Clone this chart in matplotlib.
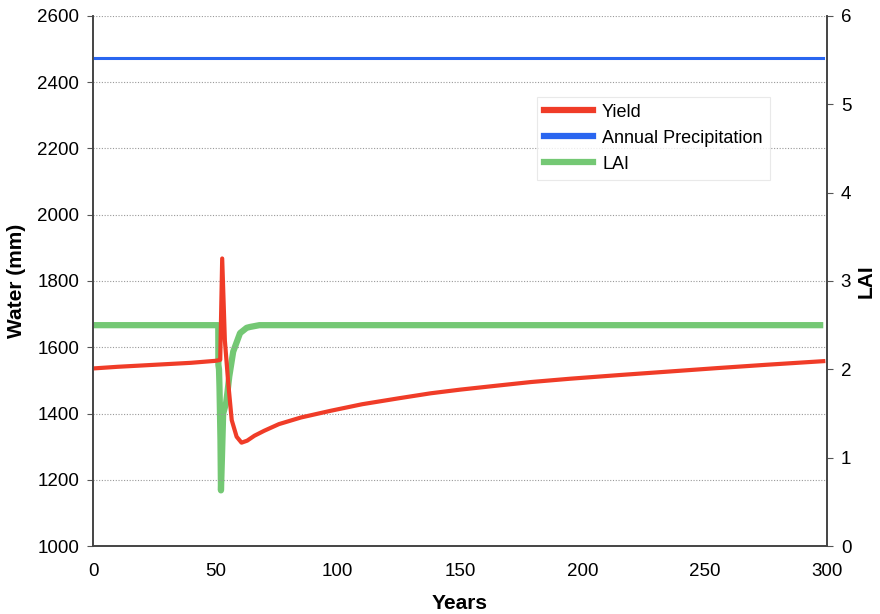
import matplotlib.pyplot as plt

plt.rcParams["font.family"] = ["Liberation Sans", "DejaVu Sans"]

# Yield (mm) against simulation year
yield_years = [0, 10, 20, 30, 40, 50, 51.5, 52.0, 52.8, 53.9, 55.3, 56.7, 58.7,
               60.7, 63, 66, 70, 76, 85, 97, 110, 125, 138, 150, 165, 179, 195,
               215, 236, 255, 275, 298.5]
yield_mm = [1536, 1541, 1545, 1549, 1553, 1559, 1561, 1562, 1868, 1620, 1490,
            1380, 1330, 1312, 1318, 1333, 1348, 1368, 1388, 1408, 1428, 1446,
            1461, 1472, 1484, 1495, 1505, 1516, 1527, 1537, 1547, 1558]

# Annual precipitation (mm), constant over the run
precip_years = [0, 298.5]
precip_mm = [2473, 2473]

# Leaf area index
lai_years = [0, 51.2, 51.25, 51.5, 51.7, 51.9, 52.1, 52.3, 52.7, 53.2, 54.4,
             55.0, 55.7, 57.3, 60.1, 62.8, 64.2, 68, 298.5]
lai = [2.5, 2.5, 2.05, 2.0, 1.8, 1.5, 1.2, 0.63, 1.0, 1.5, 1.62, 1.75, 1.92,
       2.2, 2.41, 2.47, 2.48, 2.5, 2.5]

red = "#f03c28"
blue = "#2a66f0"
green = "#74c874"

fig = plt.figure(figsize=(8.8, 6.14), dpi=100)
ax = fig.add_axes([0.1057, 0.1107, 0.834, 0.8633])
ax2 = ax.twinx()

# water axis on top so the yield line sits over LAI
ax.set_zorder(ax2.get_zorder() + 1)
ax.patch.set_visible(False)

ax2.plot(lai_years, lai, color=green, lw=4.5, solid_capstyle="butt")
ln_yield, = ax.plot(yield_years, yield_mm, color=red, lw=3.0)
ln_precip, = ax.plot(precip_years, precip_mm, color=blue, lw=2.2)
ln_lai, = ax.plot([], [], color=green, lw=4.5)

ax.set_xlim(0, 300)
ax.set_ylim(1000, 2600)
ax.set_yticks(range(1000, 2601, 200))
ax.set_xticks(range(0, 301, 50))
ax2.set_ylim(0, 6)
ax2.set_yticks(range(0, 7))

ax.grid(axis="y", color="#999999", linestyle=(0, (1, 1.5)), lw=0.8)
ax.tick_params(axis="y", labelsize=13.5, length=4, color="#555555", pad=6)
ax.tick_params(axis="x", labelsize=13.5, length=0, pad=12)
ax2.tick_params(axis="y", labelsize=13.5, length=4, color="#555555", pad=6)

for a in (ax, ax2):
    a.spines["top"].set_visible(False)
    for s in ("left", "right", "bottom"):
        a.spines[s].set_color("#444444")
        a.spines[s].set_linewidth(1.2)

ax.set_xlabel("Years", fontsize=15, fontweight="bold", labelpad=10)
ax.set_ylabel("Water (mm)", fontsize=15, fontweight="bold", labelpad=8)
ax2.set_ylabel("LAI", fontsize=15, fontweight="bold", labelpad=4)

leg = ax.legend([ln_yield, ln_precip, ln_lai],
                ["Yield", "Annual Precipitation", "LAI"],
                loc="upper left", bbox_to_anchor=(0.605, 0.848),
                fontsize=13, handlelength=2.7, handletextpad=0.5,
                labelspacing=0.5, borderpad=0.4, frameon=True,
                fancybox=False, borderaxespad=0)
leg.get_frame().set_edgecolor("#e4e4e4")
leg.get_frame().set_linewidth(0.8)
for h in leg.get_lines():
    h.set_linewidth(4.5)

fig.savefig("out.png", dpi=100)
